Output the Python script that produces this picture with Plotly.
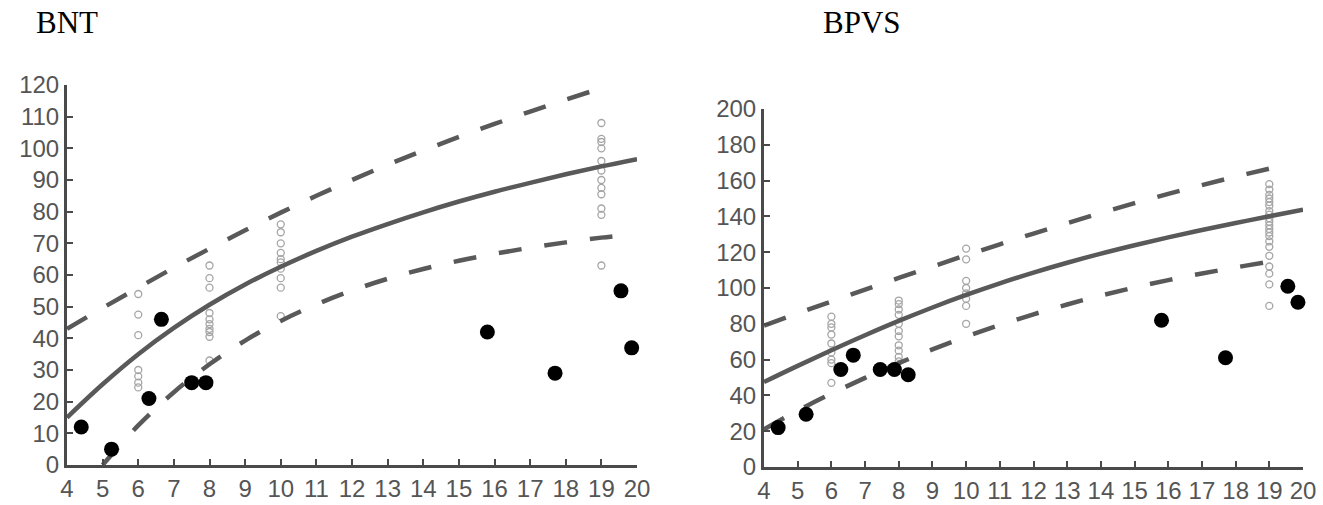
import plotly.graph_objects as go

W, H = 1323, 505

# ---------------- BNT (left) ----------------
bnt_fit_x = [4, 5, 6, 7, 8, 9, 10, 11, 12, 13, 14, 15, 16, 17, 18, 19, 20]
bnt_fit_y = [15, 25.5, 35, 43.3, 50.6, 57, 62.6, 67.6, 72.1, 76.1, 79.8, 83.2, 86.3, 89.1, 91.8, 94.3, 96.6]
bnt_upper_x = [4, 5, 6, 7, 8, 9, 10, 11, 12, 13, 14, 15, 16, 17, 18, 19]
bnt_upper_y = [43, 49.6, 56, 62.3, 68.3, 74.1, 79.7, 85, 90, 94.8, 99.3, 103.6, 107.7, 111.6, 115.4, 119]
bnt_lower_x = [5, 6, 7, 8, 9, 10, 11, 12, 13, 14, 15, 16, 17, 18, 19, 19.5]
bnt_lower_y = [0, 12.5, 23, 31.8, 39.3, 45.5, 50.7, 55.1, 58.8, 61.9, 64.5, 66.7, 68.6, 70.3, 71.8, 72.4]

bnt_norm_x = ([6] * 7) + ([8] * 10) + ([10] * 10) + ([19] * 12)
bnt_norm_y = ([54, 47.5, 41, 30, 28, 26, 24.5]
              + [63, 59, 56, 48, 46, 44.5, 43, 42, 40.5, 33]
              + [76, 73.5, 70, 67, 65, 64, 62, 59, 56, 47]
              + [108, 103, 102, 100, 96, 93, 90, 87.5, 85.5, 81, 79, 63])

bnt_case_x = [4.4, 5.25, 6.3, 6.65, 7.5, 7.9, 15.8, 17.7, 19.55, 19.85]
bnt_case_y = [12, 5, 21, 46, 26, 26, 42, 29, 55, 37]

# ---------------- BPVS (right) ----------------
bpvs_fit_x = [4, 5, 6, 7, 8, 9, 10, 11, 12, 13, 14, 15, 16, 17, 18, 19, 20]
bpvs_fit_y = [47.5, 56.5, 65.2, 73.6, 81.6, 89.1, 96.1, 102.6, 108.6, 114.1, 119.2, 123.9, 128.3, 132.4, 136.3, 140.1, 143.8]
bpvs_upper_x = [4, 5, 6, 7, 8, 9, 10, 11, 12, 13, 14, 15, 16, 17, 18, 19, 19.6]
bpvs_upper_y = [79, 85.8, 92.5, 99.1, 105.6, 112, 118.3, 124.4, 130.4, 136.2, 141.9, 147.4, 152.6, 157.5, 162.2, 166.7, 169.3]
bpvs_lower_x = [4, 5, 6, 7, 8, 9, 10, 11, 12, 13, 14, 15, 16, 17, 18, 19, 19.4]
bpvs_lower_y = [21, 31.5, 41, 49.8, 58, 65.7, 72.8, 79.3, 85.3, 90.8, 95.8, 100.3, 104.4, 108.1, 111.5, 114.7, 116]

bpvs_norm_x = ([6] * 9) + ([8] * 11) + ([10] * 8) + ([19] * 21)
bpvs_norm_y = ([84, 80, 78, 74, 69, 64, 60, 58, 47]
               + [93, 91, 88, 85, 80, 76, 73, 68, 65, 61.5, 59]
               + [122, 116, 104, 100, 97, 94, 90, 80]
               + [158, 155, 152, 150, 148, 146, 143, 141, 139, 137, 135, 133, 131,
                  129, 126, 123, 118, 112, 108, 102, 90])

bpvs_case_x = [4.42, 5.25, 6.28, 6.65, 7.45, 7.87, 8.28, 15.8, 17.7, 19.55, 19.85]
bpvs_case_y = [22, 29.5, 54.5, 62.5, 54.5, 54.5, 51.5, 82, 61, 101, 92]

x_ticks = list(range(4, 21))
bnt_y_ticks = list(range(0, 121, 10))
bpvs_y_ticks = list(range(0, 201, 20))

LINE = "#595959"
AX = "#4a4a4a"
TXT = "#555555"

fig = go.Figure()


def add_panel(xa, ya, fit_x, fit_y, up_x, up_y, lo_x, lo_y, nx, ny, cx, cy):
    fig.add_trace(go.Scatter(x=nx, y=ny, mode="markers", xaxis=xa, yaxis=ya,
                             marker=dict(symbol="circle-open", size=7,
                                         color="#a5a5a5", line=dict(width=1.3)),
                             showlegend=False, cliponaxis=False))
    fig.add_trace(go.Scatter(x=fit_x, y=fit_y, mode="lines", xaxis=xa, yaxis=ya,
                             line=dict(color=LINE, width=4.5, shape="spline"),
                             showlegend=False))
    for lx, ly in ((up_x, up_y), (lo_x, lo_y)):
        fig.add_trace(go.Scatter(x=lx, y=ly, mode="lines", xaxis=xa, yaxis=ya,
                                 line=dict(color=LINE, width=4.5, shape="spline",
                                           dash="23px,23px"),
                                 showlegend=False))
    fig.add_trace(go.Scatter(x=cx, y=cy, mode="markers", xaxis=xa, yaxis=ya,
                             marker=dict(symbol="circle", size=15, color="black"),
                             showlegend=False, cliponaxis=False))


add_panel("x", "y", bnt_fit_x, bnt_fit_y, bnt_upper_x, bnt_upper_y,
          bnt_lower_x, bnt_lower_y, bnt_norm_x, bnt_norm_y, bnt_case_x, bnt_case_y)
add_panel("x2", "y2", bpvs_fit_x, bpvs_fit_y, bpvs_upper_x, bpvs_upper_y,
          bpvs_lower_x, bpvs_lower_y, bpvs_norm_x, bpvs_norm_y, bpvs_case_x, bpvs_case_y)

tickfont = dict(family="Liberation Sans, Arial, sans-serif", size=24, color=TXT)
common = dict(showline=True, linecolor=AX, linewidth=3, ticks="inside", ticklen=6,
              tickwidth=2, tickcolor=AX, showgrid=False, zeroline=False,
              tickfont=tickfont, automargin=False, fixedrange=True)


def dx(px0, px1):
    return [px0 / W, px1 / W]


def dy(py_bottom, py_top):
    return [1 - py_bottom / H, 1 - py_top / H]


title_font = dict(family="Liberation Serif, Times New Roman, serif", size=31, color="black")

fig.update_layout(
    width=W, height=H,
    margin=dict(l=0, r=0, t=0, b=0),
    paper_bgcolor="white", plot_bgcolor="white",
    hovermode=False,
    xaxis=dict(domain=dx(67, 637), range=[4, 20], tickvals=x_ticks, anchor="y", **common),
    yaxis=dict(domain=dy(465, 85), range=[0, 120], tickvals=bnt_y_ticks, anchor="x", **common),
    xaxis2=dict(domain=dx(764, 1303), range=[4, 20], tickvals=x_ticks, anchor="y2", **common),
    yaxis2=dict(domain=dy(467, 109), range=[0, 200], tickvals=bpvs_y_ticks, anchor="x2", **common),
    annotations=[
        dict(text="BNT", x=66.5 / W, y=1 - 22 / H, xref="paper", yref="paper",
             xanchor="center", yanchor="middle", showarrow=False, font=title_font),
        dict(text="BPVS", x=862 / W, y=1 - 22 / H, xref="paper", yref="paper",
             xanchor="center", yanchor="middle", showarrow=False, font=title_font),
    ],
)

fig.write_html("out.html", config={"displayModeBar": False})

# remove the browser's default body margin so the figure sits at the page origin
with open("out.html", "r", encoding="utf-8") as f:
    html = f.read()
html = html.replace("<body>", "<body style=\"margin:0;padding:0;overflow:hidden\">", 1)
with open("out.html", "w", encoding="utf-8") as f:
    f.write(html)
